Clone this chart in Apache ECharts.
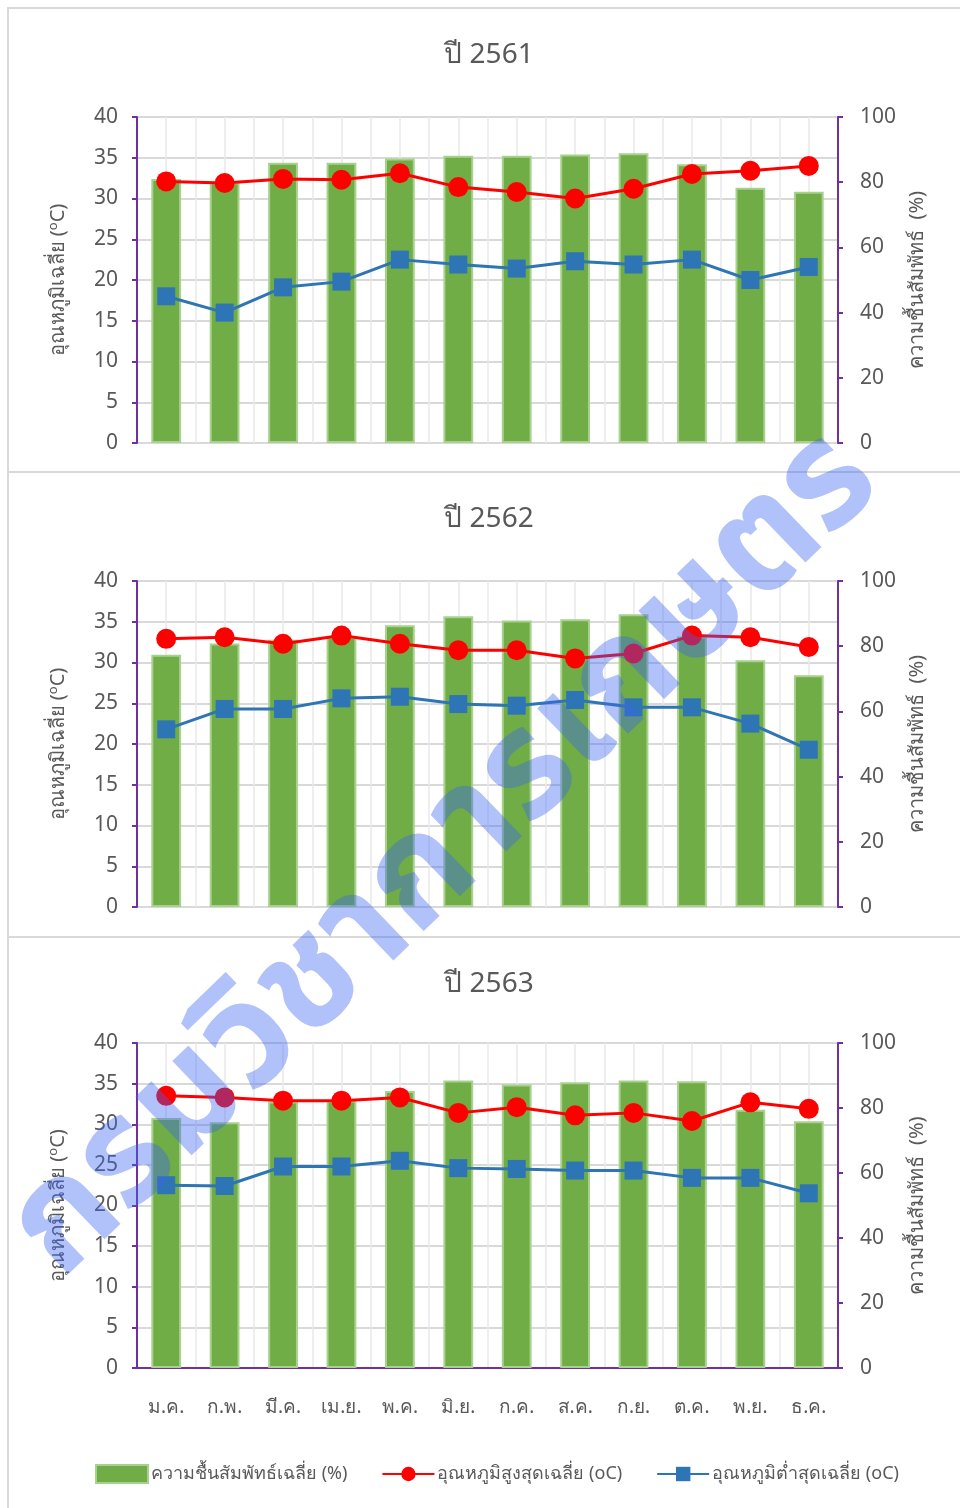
<!DOCTYPE html>
<html>
<head>
<meta charset="utf-8">
<script src="https://cdn.jsdelivr.net/npm/echarts@6/dist/echarts.min.js"></script>
<style>
  html, body { margin: 0; padding: 0; background: #ffffff; }
  #chart { width: 960px; height: 1508px; }
</style>
</head>
<body>
<div id="chart"></div>
<script>
// Monthly climate summary, three years
const months = ['ม.ค.', 'ก.พ.', 'มี.ค.', 'เม.ย.', 'พ.ค.', 'มิ.ย.', 'ก.ค.', 'ส.ค.', 'ก.ย.', 'ต.ค.', 'พ.ย.', 'ธ.ค.'];
const years = ['2561', '2562', '2563'];

// Average relative humidity (%)
const humidity2561 = [81, 80, 86, 86, 87.3, 88.1, 88.1, 88.5, 88.9, 85.5, 78.3, 77.1];
const humidity2562 = [77.4, 80.8, 82, 82.8, 86.4, 89.2, 87.9, 88.3, 89.8, 83, 75.7, 71.1];
const humidity2563 = [76.9, 75.6, 82, 82.3, 85.2, 88.5, 87.2, 87.9, 88.5, 88.2, 79.5, 75.9];

// Average maximum temperature (°C)
const tmax2561 = [32.1, 31.9, 32.4, 32.3, 33.1, 31.4, 30.8, 30.0, 31.2, 33.0, 33.4, 34.0];
const tmax2562 = [32.9, 33.1, 32.3, 33.3, 32.3, 31.5, 31.5, 30.5, 31.1, 33.3, 33.1, 31.9];
const tmax2563 = [33.5, 33.3, 32.9, 32.9, 33.3, 31.4, 32.1, 31.1, 31.4, 30.4, 32.7, 31.9];

// Average minimum temperature (°C)
const tmin2561 = [18.0, 16.0, 19.1, 19.8, 22.5, 21.9, 21.4, 22.3, 21.9, 22.5, 20.0, 21.6];
const tmin2562 = [21.8, 24.3, 24.3, 25.6, 25.8, 24.9, 24.7, 25.4, 24.5, 24.5, 22.5, 19.3];
const tmin2563 = [22.5, 22.4, 24.8, 24.8, 25.5, 24.6, 24.5, 24.3, 24.3, 23.4, 23.4, 21.5];

const humiditySets = [humidity2561, humidity2562, humidity2563];
const tmaxSets = [tmax2561, tmax2562, tmax2563];
const tminSets = [tmin2561, tmin2562, tmin2563];

const tempTicks = { min: 0, max: 40, interval: 5 };
const humTicks = { min: 0, max: 100, interval: 20 };

const nameHum = 'ความชื้นสัมพัทธ์เฉลี่ย (%)';
const nameMax = 'อุณหภูมิสูงสุดเฉลี่ย (oC)';
const nameMin = 'อุณหภูมิต่ำสุดเฉลี่ย (oC)';

const FONT = '"Noto Sans", "Open Sans", sans-serif';
const MARK_FONT = '"Noto Sans Thai", "Noto Sans Thai UI", "Noto Sans", sans-serif';
const TEXT = '#595959';
const PURPLE = '#7030a0';
const GRID = '#d9d9d9';

const panelTop = [8, 472, 937];
const panelHeight = [464, 465, 600];
const gridTop = [117, 581, 1043];
const gridHeight = [326, 326, 325];

const grids = [], xAxes = [], yAxes = [], series = [], graphics = [];

for (let i = 0; i < 3; i++) {
  grids.push({ left: 137, right: 122, top: gridTop[i], height: gridHeight[i], containLabel: false });

  // category axis carrying the data
  xAxes.push({
    type: 'category', gridIndex: i, data: months,
    axisLine: { show: i === 2, lineStyle: { color: PURPLE, width: 2 } },
    axisTick: { show: false },
    axisLabel: { show: i === 2, color: TEXT, fontSize: 19, fontFamily: FONT, margin: 30 },
    splitLine: { show: false }
  });

  // temperature axis (left)
  yAxes.push({
    type: 'value', gridIndex: i, position: 'left', ...tempTicks,
    name: '{t|อุณหภูมิเฉลี่ย (}{s|o}{t|C)}', nameLocation: 'middle', nameGap: 68, nameRotate: 90,
    nameTextStyle: {
      rich: {
        t: { color: TEXT, fontSize: 20, fontFamily: FONT },
        s: { color: TEXT, fontSize: 13, fontFamily: FONT, verticalAlign: 'top', padding: [0, 0, 9, 0] }
      }
    },
    axisLine: { show: true, lineStyle: { color: PURPLE, width: 2 } },
    axisTick: { show: true, length: 5, lineStyle: { color: PURPLE, width: 2 } },
    axisLabel: { color: TEXT, fontSize: 21, fontFamily: FONT, margin: 19 },
    splitLine: { show: true, lineStyle: { color: GRID, width: 2 } }
  });

  // humidity axis (right)
  yAxes.push({
    type: 'value', gridIndex: i, position: 'right', ...humTicks,
    name: 'ความชื้นสัมพัทธ์  (%)', nameLocation: 'middle', nameGap: 66, nameRotate: 90,
    nameTextStyle: { color: TEXT, fontSize: 20, fontFamily: FONT },
    axisLine: { show: true, lineStyle: { color: PURPLE, width: 2 } },
    axisTick: { show: true, length: 5, lineStyle: { color: PURPLE, width: 2 } },
    axisLabel: { color: TEXT, fontSize: 21, fontFamily: FONT, margin: 22 },
    splitLine: { show: false }
  });

  series.push({
    name: nameHum, type: 'bar', xAxisIndex: i, yAxisIndex: i * 2 + 1,
    data: humiditySets[i], barWidth: '51%',
    itemStyle: { color: '#70ad47', borderColor: '#a9d18e', borderWidth: 2 }
  });
  series.push({
    name: nameMax, type: 'line', xAxisIndex: i, yAxisIndex: i * 2,
    data: tmaxSets[i], symbol: 'circle', symbolSize: 20,
    lineStyle: { color: '#ff0000', width: 3 }, itemStyle: { color: '#ff0000' }, z: 3
  });
  series.push({
    name: nameMin, type: 'line', xAxisIndex: i, yAxisIndex: i * 2,
    data: tminSets[i], symbol: 'rect', symbolSize: 18,
    lineStyle: { color: '#2e75b6', width: 3 }, itemStyle: { color: '#2e75b6' }, z: 4
  });

  // panel frame and heading
  graphics.push({
    type: 'rect', z: -10, silent: true,
    shape: { x: 8, y: panelTop[i], width: 980, height: panelHeight[i] },
    style: { fill: null, stroke: GRID, lineWidth: 2 }
  });
  graphics.push({
    type: 'text', silent: true, x: 489, y: panelTop[i] + 47,
    style: { text: 'ปี ' + years[i], fill: TEXT, font: '28px ' + FONT, textAlign: 'center', textVerticalAlign: 'middle' }
  });
}

// half-category vertical grid lines
for (let i = 0; i < 3; i++) {
  xAxes.push({
    type: 'value', gridIndex: i, min: 0, max: 24, interval: 1,
    axisLine: { show: false }, axisTick: { show: false }, axisLabel: { show: false },
    splitLine: { show: true, lineStyle: { color: '#e9e9e9', width: 1.5 } }
  });
}

// agency watermark across the panels
graphics.push({
  type: 'text', silent: true, z: 100,
  x: 452, y: 862, rotation: 44 * Math.PI / 180,
  style: {
    text: 'กรมวิชาการเกษตร', fill: 'rgba(60, 100, 240, 0.4)',
    font: 'bold 148px ' + MARK_FONT, textAlign: 'center', textVerticalAlign: 'middle'
  }
});

const chart = echarts.init(document.getElementById('chart'), null, { renderer: 'canvas' });
chart.setOption({
  animation: false,
  backgroundColor: '#ffffff',
  grid: grids,
  xAxis: xAxes,
  yAxis: yAxes,
  series: series,
  graphic: graphics,
  legend: {
    data: [
      { name: nameHum, icon: 'rect' },
      nameMax,
      nameMin
    ],
    left: 90, top: 1459, itemWidth: 52, itemHeight: 18, itemGap: 34,
    textStyle: { color: TEXT, fontSize: 18, fontFamily: FONT, padding: [0, 0, 0, -2] }
  }
});
</script>
</body>
</html>
